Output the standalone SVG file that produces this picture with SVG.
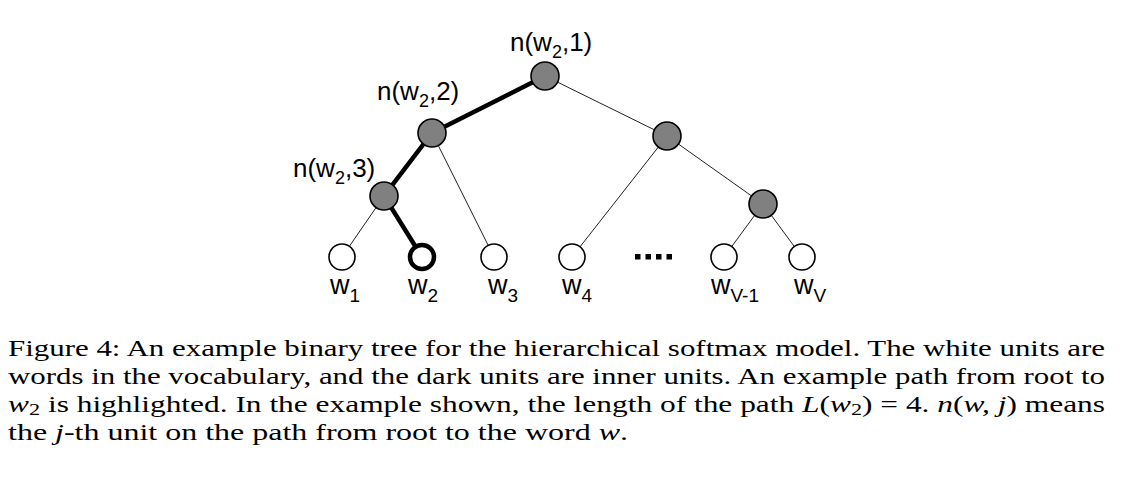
<svg xmlns="http://www.w3.org/2000/svg" width="1132" height="486" viewBox="0 0 1132 486">
<style>
.thin{stroke:#222;stroke-width:1;fill:none}
.thick{stroke:#000;stroke-width:4.5;fill:none;stroke-linecap:round}
.inner{fill:#808080;stroke:#000;stroke-width:1.6}
.leaf{fill:#fff;stroke:#000;stroke-width:1.6}
.leafhl{fill:#fff;stroke:#000;stroke-width:4.5}
.lbl{font-family:"Liberation Sans",Arial,sans-serif;font-size:26px;fill:#000}
.sub{font-size:18px}
.leaflbl{font-family:"Liberation Sans",Arial,sans-serif;font-size:27px;fill:#000}
.lsub{font-size:19px}
.cap{font-family:"Liberation Serif","DejaVu Serif",serif;font-size:24px;fill:#000}
.dot{fill:#000}
</style>
<rect width="1132" height="486" fill="#fff"/>
<g id="connectors">
<line class="thin" x1="545" y1="76" x2="667" y2="136"/>
<line class="thin" x1="432" y1="133" x2="494" y2="257"/>
<line class="thin" x1="384" y1="196" x2="342" y2="257"/>
<line class="thin" x1="667" y1="136" x2="572" y2="257"/>
<line class="thin" x1="667" y1="136" x2="763" y2="204"/>
<line class="thin" x1="763" y1="204" x2="724" y2="257"/>
<line class="thin" x1="763" y1="204" x2="802" y2="257"/>
<polyline class="thick" points="545,76 432,133 384,196 422,257"/>
</g>
<g id="n1"><circle class="inner" cx="545" cy="76" r="14"/><text class="lbl" x="510" y="51">n(w<tspan class="sub" dy="7">2</tspan><tspan dy="-7">,1)</tspan></text></g>
<g id="n2"><circle class="inner" cx="432" cy="133" r="14"/><text class="lbl" x="377" y="100">n(w<tspan class="sub" dy="7">2</tspan><tspan dy="-7">,2)</tspan></text></g>
<g id="n3"><circle class="inner" cx="384" cy="196" r="14"/><text class="lbl" x="293" y="177">n(w<tspan class="sub" dy="7">2</tspan><tspan dy="-7">,3)</tspan></text></g>
<g id="r2"><circle class="inner" cx="667" cy="136" r="14"/></g>
<g id="r3"><circle class="inner" cx="763" cy="204" r="14"/></g>
<g id="w1"><circle class="leaf" cx="342" cy="257" r="13"/><text class="leaflbl" x="330" y="294">w<tspan class="lsub" dy="8">1</tspan></text></g>
<g id="w2"><circle class="leafhl" cx="422" cy="257" r="12"/><text class="leaflbl" x="408" y="294">w<tspan class="lsub" dy="8">2</tspan></text></g>
<g id="w3"><circle class="leaf" cx="494" cy="257" r="13"/><text class="leaflbl" x="488" y="294">w<tspan class="lsub" dy="8">3</tspan></text></g>
<g id="w4"><circle class="leaf" cx="572" cy="257" r="13"/><text class="leaflbl" x="562" y="294">w<tspan class="lsub" dy="8">4</tspan></text></g>
<g id="wv1"><circle class="leaf" cx="724" cy="257" r="13"/><text class="leaflbl" x="711" y="294">w<tspan class="lsub" dy="8">V-1</tspan></text></g>
<g id="wv"><circle class="leaf" cx="802" cy="257" r="13"/><text class="leaflbl" x="794" y="294">w<tspan class="lsub" dy="8">V</tspan></text></g>
<g id="ellipsis">
<rect class="dot" x="635" y="254" width="5.5" height="5.5"/>
<rect class="dot" x="645.5" y="254" width="5.5" height="5.5"/>
<rect class="dot" x="656" y="254" width="5.5" height="5.5"/>
<rect class="dot" x="666.5" y="254" width="5.5" height="5.5"/>
</g>
<g id="caption">
<text class="cap" x="8" y="356" textLength="1097" lengthAdjust="spacingAndGlyphs">Figure 4: An example binary tree for the hierarchical softmax model. The white units are</text>
<text class="cap" x="8" y="384" textLength="1097" lengthAdjust="spacingAndGlyphs">words in the vocabulary, and the dark units are inner units. An example path from root to</text>
<text class="cap" x="8" y="412" textLength="1097" lengthAdjust="spacingAndGlyphs"><tspan font-style="italic">w</tspan><tspan font-size="17" dy="3">2</tspan><tspan dy="-3"> is highlighted. In the example shown, the length of the path </tspan><tspan font-style="italic">L</tspan>(<tspan font-style="italic">w</tspan><tspan font-size="17" dy="3">2</tspan><tspan dy="-3">) = 4. </tspan><tspan font-style="italic">n</tspan>(<tspan font-style="italic">w, j</tspan>) means</text>
<text class="cap" x="8" y="440" textLength="620" lengthAdjust="spacingAndGlyphs">the <tspan font-style="italic">j</tspan>-th unit on the path from root to the word <tspan font-style="italic">w</tspan>.</text>
</g>
</svg>
